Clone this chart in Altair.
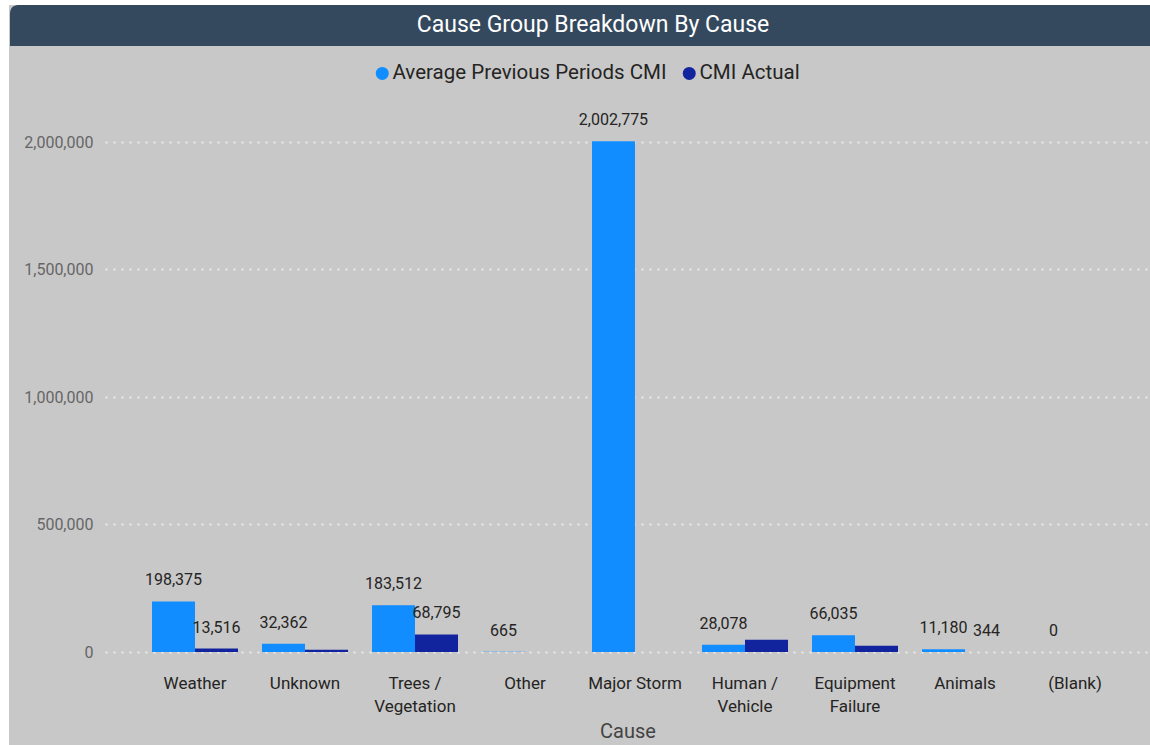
import altair as alt
import pandas as pd

# --- values -----------------------------------------------------------------
causes = ["Weather", "Unknown", "Trees / Vegetation", "Other", "Major Storm",
          "Human / Vehicle", "Equipment Failure", "Animals", "(Blank)"]
avg_prev_cmi = [198375, 32362, 183512, 665, 2002775, 28078, 66035, 11180, 0]
cmi_actual = [13516, 9000, 68795, None, None, 48000, 25000, 344, None]
# data labels that stay visible (the rest collide and are dropped)
avg_label_shown = [True, True, True, True, True, True, True, True, True]
actual_label_shown = [True, False, True, False, False, False, False, True, False]

series = ["Average Previous Periods CMI", "CMI Actual"]
colors = ["#118DFF", "#12239E"]
y_ticks = [0, 500000, 1000000, 1500000, 2000000]
wrapped = {
    "Trees / Vegetation": ["Trees /", "Vegetation"],
    "Human / Vehicle": ["Human /", "Vehicle"],
    "Equipment Failure": ["Equipment", "Failure"],
}

rows = []
for i, c in enumerate(causes):
    rows.append({"cause": c, "series": series[0], "value": avg_prev_cmi[i],
                 "show": avg_label_shown[i]})
    if cmi_actual[i] is not None:
        rows.append({"cause": c, "series": series[1], "value": cmi_actual[i],
                     "show": actual_label_shown[i]})
df = pd.DataFrame(rows)

# --- layout (plot area in px) -------------------------------------------------
PAD_L, PAD_T, PAD_B = 105, 105, 93
W, H = 1150 - PAD_L, 745 - PAD_T - PAD_B

label_expr = "".join(
    f"datum.label == '{k}' ? {v!r} : " for k, v in wrapped.items()
) + "datum.label"

x = alt.X(
    "cause:N", sort=causes,
    scale=alt.Scale(paddingInner=0.218, paddingOuter=0.359, align=0.595),
    axis=alt.Axis(title="Cause", labelAngle=0, labelExpr=label_expr,
                  domain=False, ticks=False, labelPadding=23, labelFontSize=17,
                  labelColor="#252423", labelLineHeight=23, titleFontSize=20,
                  titleColor="#444444", titleFontWeight="normal",
                  titlePadding=7, labelLimit=200),
)
y = alt.Y(
    "value:Q",
    scale=alt.Scale(domain=[0, 2145098], nice=False),
    axis=alt.Axis(title=None, values=y_ticks,
                  labelExpr="format(datum.value, ',')", grid=True,
                  gridDash=[2, 6], gridColor="#ececec", gridWidth=2,
                  domain=False, ticks=False, labelPadding=12, labelFontSize=16,
                  labelColor="#666666"),
)
xoff = alt.XOffset("series:N", sort=series)
color = alt.Color(
    "series:N", sort=series,
    scale=alt.Scale(domain=series, range=colors),
    legend=alt.Legend(title=None, orient="none", legendX=267, legendY=-42,
                      direction="horizontal", symbolType="circle",
                      symbolSize=169, symbolStrokeWidth=0, labelFontSize=20.5,
                      labelColor="#252423", labelLimit=400, columnPadding=12,
                      labelOffset=0, padding=0),
)

one = pd.DataFrame({"k": [0]})

# panel decoration: page margin and the header bar
left_margin = alt.Chart(one).mark_rect(color="white").encode(
    x=alt.value(-PAD_L), x2=alt.value(-PAD_L + 9),
    y=alt.value(-PAD_T), y2=alt.value(H + PAD_B))
top_margin = alt.Chart(one).mark_rect(color="white").encode(
    x=alt.value(-PAD_L), x2=alt.value(W),
    y=alt.value(-PAD_T), y2=alt.value(-PAD_T + 5))
header = alt.Chart(one).mark_rect(
    color="#34495E", cornerRadiusTopLeft=8, cornerRadiusTopRight=8
).encode(x=alt.value(-PAD_L + 10), x2=alt.value(W + 30),
         y=alt.value(-PAD_T + 5), y2=alt.value(-PAD_T + 46))
header_text = alt.Chart(one).mark_text(
    text="Cause Group Breakdown By Cause", fontSize=23, color="white",
    align="center", baseline="middle"
).encode(x=alt.value(593 - PAD_L), y=alt.value(25 - PAD_T))

bars = alt.Chart(df).mark_bar().encode(x=x, xOffset=xoff, y=y, color=color)
labels = alt.Chart(df).transform_filter("datum.show").mark_text(
    dy=-21, fontSize=16, color="#252423", baseline="middle"
).encode(x=x, xOffset=xoff, y=y, text=alt.Text("value:Q", format=","))

chart = alt.layer(
    left_margin, top_margin, header, bars, labels, header_text
).properties(
    width=W, height=H,
    autosize=alt.AutoSizeParams(type="none"),
    padding={"left": PAD_L, "top": PAD_T, "right": 0, "bottom": PAD_B},
).configure(
    background="#C8C8C8", font="Roboto",
).configure_view(stroke=None)

chart.save("out.html", embed_options={"renderer": "svg", "actions": False})
